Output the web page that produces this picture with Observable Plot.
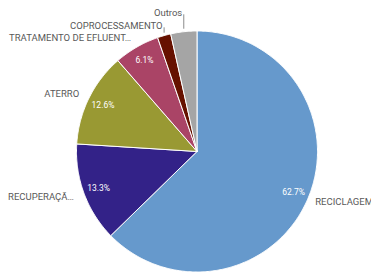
<!DOCTYPE html>
<html><head><meta charset="utf-8">
<script src="https://cdn.jsdelivr.net/npm/d3@7"></script>
<script src="https://cdn.jsdelivr.net/npm/@observablehq/plot@0.6"></script>
<style>body{margin:0;background:#fff;} svg{display:block;}</style>
</head><body><div id="chart"></div>
<script>
const categories = ["RECICLAGEM", "RECUPERAÇÃ…", "ATERRO", "TRATAMENTO DE EFLUENT…", "COPROCESSAMENTO", "Outros"];
const values = [62.7, 13.3, 12.6, 6.1, 1.8, 3.5];
const colors = ["#6699cc", "#332288", "#999933", "#aa4466", "#661100", "#a5a5a5"];

const W = 371, H = 272, cx = 196.5, cy = 151, R = 120.5;
const xDomain = [-cx / R, (W - cx) / R];
const yDomain = [-(H - cy) / R, cy / R];

const arcs = d3.pie().sort(null).value(d => d.value)(categories.map((c, i) => ({cat: c, value: values[i]})));

// slice polygons
const pts = [];
for (const a of arcs) {
  pts.push({cat: a.data.cat, x: 0, y: 0});
  const n = Math.max(4, Math.ceil((a.endAngle - a.startAngle) / 0.01));
  for (let k = 0; k <= n; k++) {
    const t = a.startAngle + (a.endAngle - a.startAngle) * k / n;
    pts.push({cat: a.data.cat, x: Math.sin(t), y: Math.cos(t)});
  }
  pts.push({cat: a.data.cat, x: 0, y: 0});
}

const mid = a => (a.startAngle + a.endAngle) / 2;
const pct = arcs.filter(a => a.data.value >= 5).map(a => ({
  x: 0.87 * Math.sin(mid(a)), y: 0.87 * Math.cos(mid(a)), text: a.data.value.toFixed(1) + "%"
}));

const bigLabels = arcs.filter(a => a.data.value >= 5).map(a => {
  const right = Math.sin(mid(a)) > 0, k = right ? 1.065 : 1.09;
  return {x: k * Math.sin(mid(a)), y: 1.085 * Math.cos(mid(a)), text: a.data.cat, right};
});

// small slices: vertical leader lines, labels stacked upward
const small = [];
let prevY = null;
for (const a of arcs.filter(a => a.data.value < 5)) {
  const lx = Math.sin(mid(a));
  let ly = 1.08 * Math.cos(mid(a));
  if (prevY !== null && ly - prevY < 13 / R) ly = prevY + 13 / R;
  prevY = ly;
  small.push({x0: lx, y0: 1.025 * Math.cos(mid(a)), y1: ly - 1 / R, tx: lx - 1.5 / R, ty: ly, text: a.data.cat});
}

const font = "Roboto, sans-serif";
const chart = Plot.plot({
  width: W, height: H, margin: 0,
  style: {background: "#fff", fontFamily: font},
  x: {domain: xDomain, axis: null},
  y: {domain: yDomain, axis: null},
  color: {domain: categories, range: colors},
  marks: [
    Plot.line(pts, {x: "x", y: "y", z: "cat", fill: "cat", stroke: "white", strokeWidth: 1, strokeLinejoin: "round"}),
    Plot.text(pct, {x: "x", y: "y", text: "text", fill: "white", fontSize: 8.5, fontFamily: font}),
    Plot.text(bigLabels.filter(d => d.right), {x: "x", y: "y", text: "text", textAnchor: "start", fill: "#595959", fontSize: 9.5, fontFamily: font}),
    Plot.text(bigLabels.filter(d => !d.right), {x: "x", y: "y", text: "text", textAnchor: "end", fill: "#595959", fontSize: 9.5, fontFamily: font}),
    Plot.link(small, {x1: "x0", y1: "y0", x2: "x0", y2: "y1", stroke: "#8c8c8c", strokeWidth: 1}),
    Plot.text(small, {x: "tx", y: "ty", text: "text", textAnchor: "end", fill: "#595959", fontSize: 9.5, fontFamily: font})
  ]
});
document.getElementById("chart").appendChild(chart);
</script>
</body></html>
